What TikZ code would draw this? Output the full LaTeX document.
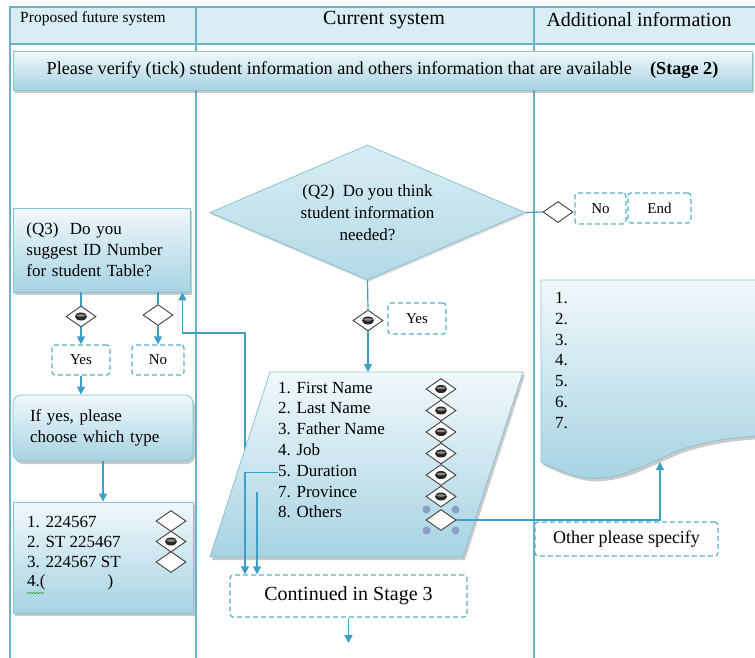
\documentclass[tikz,border=0pt]{standalone}
\usepackage{fontspec}
\setmainfont{Liberation Serif}
\usetikzlibrary{shapes.geometric,shadows,arrows.meta,positioning,decorations.pathmorphing}

\definecolor{laneblue}{HTML}{6BB3CB}
\definecolor{headfill}{HTML}{D8EDF4}
\definecolor{paneltop}{HTML}{F1F8FB}
\definecolor{panelbot}{HTML}{A6D3E2}
\definecolor{dashblue}{HTML}{5AADC9}
\definecolor{arrowblue}{HTML}{3C9FC5}
\definecolor{handle}{HTML}{8A9FC6}

\tikzset{
  lane/.style={draw=laneblue, line width=1.1pt},
  panel/.style={draw=laneblue!80, line width=0.8pt, top color=paneltop, bottom color=panelbot,
    drop shadow={opacity=0.35, shadow xshift=2pt, shadow yshift=-3pt, fill=black!60}},
  answer/.style={draw=dashblue, line width=1.2pt, dash pattern=on 5pt off 3pt, rounded corners=3pt,
    fill=white, font=\fontsize{15}{17}\selectfont, inner sep=0pt},
  tick/.style={diamond, draw=black!75, line width=0.9pt, fill=white, inner sep=0pt,
    minimum width=30pt, minimum height=21pt},
  picked/.style={tick, path picture={
    \fill[black!85] (path picture bounding box.center) ellipse (6pt and 4pt);
    \fill[black!45] ([yshift=1pt]path picture bounding box.center) ellipse (4.5pt and 1.3pt);}},
  flow/.style={draw=arrowblue, line width=1.2pt},
  go/.style={flow, -{Triangle[length=8pt,width=8pt]}},
  txt/.style={font=\fontsize{17}{21}\selectfont, inner sep=0pt}
}

\begin{document}
\begin{tikzpicture}[x=1pt,y=-1pt]
    \useasboundingbox (0,0) rectangle (755,657);

    % lanes and header
    \fill[headfill] (10,7) rectangle (770,44);
    \draw[lane] (770,7) -- (10,7) -- (10,660);
    \draw[lane] (10,44) -- (770,44);
    \draw[lane] (196,7) -- (196,660);
    \draw[lane] (534,7) -- (534,660);
    \node[font=\fontsize{15.5}{18}\selectfont] (h1) at (93,19) {Proposed future system};
    \node[font=\fontsize{20}{24}\selectfont] (h2) at (384,20) {Current system};
    \node[font=\fontsize{20}{24}\selectfont, anchor=west] (h3) at (543,20) {Additional information};

    \node[panel, minimum width=739pt, minimum height=39pt, font=\fontsize{18.2}{21}\selectfont] (stage) at (382.5,70.5)
        {Please verify (tick) student information and others information that are available\quad\textbf{(Stage 2)}};

    % left lane
    \node[panel, txt, minimum width=177pt, minimum height=84pt, text width=150pt, align=left] (q3) at (101.5,250)
        {(Q3)\ \ Do you\\suggest ID Number\\for student Table?};
    \node[picked] (d3yes) at (81,316.5) {};
    \node[tick] (d3no) at (158,315) {};
    \node[answer, minimum width=58pt, minimum height=30pt] (yes3) at (81,360) {Yes};
    \node[answer, minimum width=52pt, minimum height=30pt] (no3) at (158,360) {No};
    \node[panel, txt, rounded corners=8pt, minimum width=180pt, minimum height=66pt, text width=146pt, align=left] (type) at (103,428)
        {If yes, please\\choose which type};
    \node[panel, minimum width=180pt, minimum height=111pt] (ids) at (103,557.5) {};
    \node[txt, anchor=west] (id1) at (27,522) {1. 224567};
    \node[txt, anchor=west] (id2) at (27,542) {2. ST 225467};
    \node[txt, anchor=west] (id3) at (27,562) {3. 224567 ST};
    \node[txt, anchor=west] (id4) at (27,582) {4.(\hspace{62pt})};
    \draw[green!60!black, decorate, decoration={snake, amplitude=0.8pt, segment length=3pt}] (27,593) -- (44,593);
    \node[tick] (t1) at (171,521) {};
    \node[picked] (t2) at (171,541.5) {};
    \node[tick] (t3) at (171,562) {};

    \draw[flow] (q3.south -| d3yes) -- (d3yes.north);
    \draw[go] (d3yes.south) -- (yes3.north);
    \draw[flow] (q3.south -| d3no) -- (d3no.north);
    \draw[go] (d3no.south) -- (no3.north);
    \draw[go] (yes3.south) -- (yes3.south |- type.north);
    \draw[go] (type.south) -- (ids.north);

    % current system lane
    \node[diamond, aspect=2.33, draw=laneblue!80, line width=0.8pt, top color=headfill, bottom color=panelbot!85,
          drop shadow={opacity=0.25, shadow xshift=1pt, shadow yshift=-2pt, fill=black!60},
          minimum width=315pt, minimum height=135pt, inner sep=0pt, align=center,
          font=\fontsize{17}{22}\selectfont] (q2) at (367.5,212.5)
        {(Q2)\ \ Do you think\\student information\\needed?};
    \node[picked] (d2yes) at (368,320.5) {};
    \node[answer, minimum width=58pt, minimum height=31pt] (yes2) at (417,318.5) {Yes};
    \node[tick] (d2no) at (558,212) {};
    \node[answer, minimum width=51pt, minimum height=31pt] (no2) at (600.5,208.5) {No};
    \node[answer, minimum width=63pt, minimum height=30pt] (end2) at (659.5,208) {End};

    \coordinate (j1) at (245,333);
    \coordinate (j2) at (245,466);
    \coordinate (p7) at (257,492);
    \coordinate (ptop) at (368,372);
    \draw[go] (j2) -- (j1) -| ([xshift=-8pt]q3.south east);

    \path[panel] (270,372) -- (523,372) -- (463,557) -- (210,557) -- cycle;
    \foreach \t [count=\i] in {1. First Name, 2. Last Name, 3. Father Name, 4. Job, 5. Duration, 7. Province, 8. Others}
        \node[txt, anchor=west, text height=12pt, text depth=4pt] (f\i) at (278,{389+20.8*(\i-1)}) {\t};
    \foreach \i in {1,...,6}
        \node[picked] (o\i) at (441,{389+21.5*(\i-1)}) {};
    \node[tick] (o7) at (441,520) {};
    \foreach \dx/\dy in {-14.5/-10.5, 14.5/-10.5, -14.5/10.5, 14.5/10.5}
        \fill[handle] ([shift={(\dx,\dy)}]o7.center) circle (4pt);

    \node[answer, minimum width=237pt, minimum height=42pt, font=\fontsize{20}{24}\selectfont] (cont) at (348.5,596) {Continued in Stage 3};
    \coordinate (down) at (348.5,643);

    \draw[flow] (q2.south) -- (d2yes.north);
    \draw[go] (d2yes.south) -- (ptop);
    \draw[flow] (q2.east) -- (d2no.west);
    \draw[go] (f5.west) -| (j1 |- cont.north);
    \draw[go] (p7) -- (p7 |- cont.north);
    \draw[go] (cont.south) -- (down);

    % additional information lane
    \path[panel] (541,280) -- (770,280) -- (770,436)
        .. controls (740,436) and (710,440) .. (680,450)
        .. controls (650,462) and (630,476) .. (600,478)
        .. controls (585,480) and (565,474) .. (541,462) -- cycle;
    \foreach \i in {1,...,7}
        \node[txt, anchor=west] (n\i) at (555,{298+20.8*(\i-1)}) {\i.};
    \coordinate (docin) at (660,462);

    \node[answer, minimum width=183pt, minimum height=34pt, font=\fontsize{18}{21}\selectfont] (other) at (626.5,539) {Other please specify};
    \draw[go] (o7.east) -| (docin);

\end{tikzpicture}
\end{document}
